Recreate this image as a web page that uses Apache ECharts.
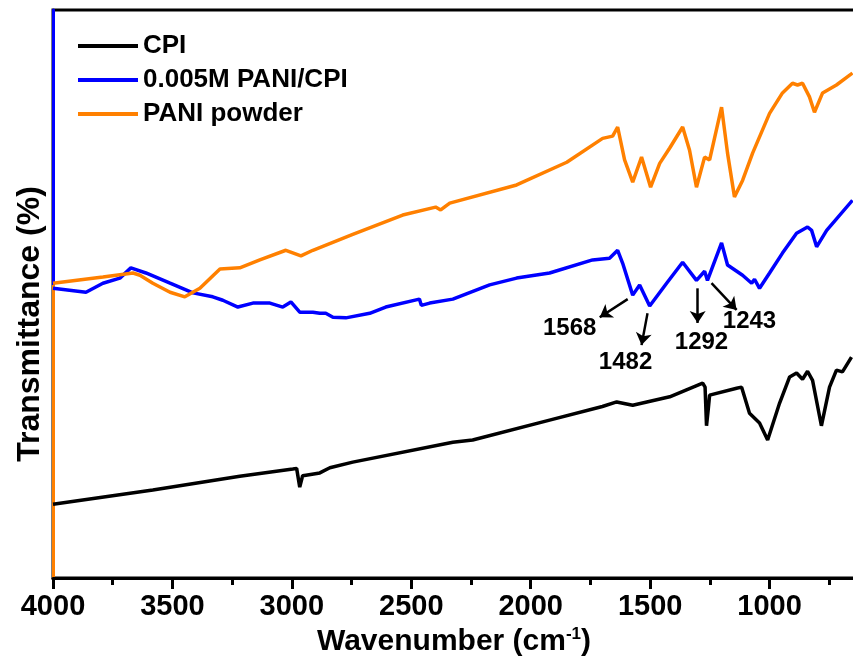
<!DOCTYPE html>
<html>
<head>
<meta charset="utf-8">
<script src="https://cdn.jsdelivr.net/npm/echarts@6/dist/echarts.min.js"></script>
<style>
  html, body { margin: 0; padding: 0; background: #fff; }
  #chart { width: 853px; height: 659px; }
</style>
</head>
<body>
<div id="chart"></div>
<script>
const seriesNames = ["CPI", "0.005M PANI/CPI", "PANI powder"];
const seriesColors = ["#000000", "#0000ff", "#ff8000"];

// [wavenumber, transmittance (a.u.)]
const cpi = [
  [4000, 13.0], [3582, 15.5], [3218, 17.9], [2996, 19.2], [2980, 19.3], [2967, 16.0],
  [2955, 18.0], [2941, 18.1], [2883, 18.5], [2841, 19.4], [2745, 20.4], [2326, 23.9],
  [2243, 24.3], [1921, 27.8], [1700, 30.2], [1640, 31.0], [1573, 30.4], [1418, 31.9],
  [1280, 34.3], [1270, 33.6], [1264, 26.8], [1256, 30.0], [1251, 32.2], [1138, 33.4],
  [1117, 33.6], [1084, 29.0], [1042, 27.3], [1008, 24.3], [958, 30.8], [916, 35.4],
  [887, 36.1], [862, 35.0], [841, 36.4], [820, 34.8], [783, 26.8], [749, 33.6],
  [720, 36.6], [695, 36.3], [657, 38.9]
];

const paniCpi = [
  [4000, 51.0], [3862, 50.3], [3791, 51.9], [3720, 52.8], [3674, 54.6], [3611, 53.7],
  [3510, 51.9], [3414, 50.2], [3331, 49.5], [3289, 48.9], [3226, 47.7], [3163, 48.4],
  [3092, 48.4], [3038, 47.7], [3004, 48.6], [2967, 46.8], [2912, 46.8], [2883, 46.6],
  [2858, 46.6], [2828, 45.9], [2774, 45.8], [2674, 46.6], [2607, 47.7], [2466, 49.1],
  [2458, 48.0], [2423, 48.4], [2326, 49.1], [2172, 51.6], [2059, 52.8], [1921, 53.7],
  [1741, 56.0], [1670, 56.3], [1636, 57.7], [1615, 55.4], [1573, 49.8], [1544, 51.6],
  [1502, 47.9], [1431, 51.9], [1364, 55.6], [1306, 52.4], [1272, 54.0], [1260, 52.4],
  [1201, 59.0], [1176, 55.1], [1113, 53.3], [1075, 51.9], [1063, 52.6], [1042, 51.0],
  [1000, 53.7], [946, 57.2], [887, 60.7], [841, 61.8], [824, 61.2], [803, 58.3],
  [761, 61.2], [653, 66.5]
];

const paniPowder = [
  [4000, 51.9], [3791, 53.0], [3665, 53.7], [3636, 53.3], [3582, 51.9], [3510, 50.3],
  [3448, 49.5], [3385, 51.0], [3301, 54.4], [3218, 54.6], [3134, 56.0], [3025, 57.7],
  [2962, 56.7], [2912, 57.7], [2745, 60.5], [2536, 63.9], [2398, 65.3], [2377, 64.8],
  [2339, 66.0], [2059, 69.2], [1849, 73.2], [1699, 77.4], [1657, 77.8], [1636, 79.4],
  [1607, 73.6], [1573, 69.7], [1536, 74.1], [1498, 68.8], [1460, 73.0], [1418, 75.7],
  [1364, 79.4], [1335, 75.3], [1306, 68.8], [1272, 74.1], [1251, 73.6], [1201, 82.9],
  [1176, 74.8], [1147, 67.1], [1113, 70.0], [1071, 74.8], [1000, 81.8], [946, 85.4],
  [904, 87.1], [883, 86.8], [862, 87.1], [833, 84.7], [812, 82.0], [778, 85.4],
  [720, 86.8], [653, 88.9]
];

// peak annotations on the PANI/CPI curve
const peakLabels = ["1568", "1482", "1292", "1243"];
const peakLabelAt = [[1837, 44.0], [1603, 38.0], [1285, 41.5], [1084, 45.1]];
const peakArrows = [
  [[1594, 49.1], [1711, 45.9]],
  [[1511, 46.6], [1536, 41.0]],
  [[1301, 51.0], [1301, 44.9]],
  [[1243, 51.9], [1138, 47.2]]
];

const font = "Arial, 'Liberation Sans', sans-serif";

const chart = echarts.init(document.getElementById("chart"));

const lineSeries = [cpi, paniCpi, paniPowder].map((d, i) => ({
  name: seriesNames[i],
  type: "line",
  data: d,
  symbol: "none",
  lineStyle: { color: seriesColors[i], width: 3.5 },
  itemStyle: { color: seriesColors[i] }
}));

chart.setOption({
  animation: false,
  grid: {
    left: 53,
    top: 10,
    width: 836,
    height: 568,
    outerBoundsMode: "none",
    show: true,
    borderColor: "#000",
    borderWidth: 3
  },
  legend: {
    data: seriesNames,
    icon: "rect",
    orient: "vertical",
    left: 73,
    top: 28,
    itemWidth: 60,
    itemHeight: 4,
    itemGap: 8,
    textStyle: { fontSize: 26, fontWeight: "bold", color: "#000", fontFamily: font }
  },
  xAxis: {
    type: "value",
    inverse: true,
    min: 500,
    max: 4000,
    interval: 500,
    name: "Wavenumber (cm{s|-1})",
    nameLocation: "middle",
    nameGap: 42,
    nameTextStyle: {
      fontSize: 30,
      fontWeight: "bold",
      color: "#000",
      fontFamily: font,
      padding: [0, 34, 0, 0],
      rich: {
        s: { fontSize: 17, fontWeight: "bold", color: "#000", fontFamily: font, verticalAlign: "top", padding: [0, 0, 14, 0] }
      }
    },
    axisLine: { onZero: false, lineStyle: { color: "#000", width: 3 } },
    axisTick: { length: 11, lineStyle: { width: 3, color: "#000" } },
    minorTick: { show: true, splitNumber: 2, length: 7, lineStyle: { width: 3, color: "#000" } },
    splitLine: { show: false },
    axisLabel: {
      margin: 14,
      fontSize: 29,
      fontWeight: "bold",
      color: "#000",
      fontFamily: font,
      formatter: v => (v === 500 ? "" : String(v))
    }
  },
  yAxis: {
    type: "value",
    min: 0,
    max: 100,
    name: "Transmittance (%)",
    nameLocation: "middle",
    nameGap: 7,
    nameTextStyle: {
      fontSize: 32,
      fontWeight: "bold",
      color: "#000",
      fontFamily: font,
      padding: [0, 60, 0, 0]
    },
    axisLine: {
      onZero: false,
      lineStyle: {
        width: 3,
        color: {
          type: "linear",
          global: true,
          x: 0, y: 10, x2: 0, y2: 578,
          colorStops: [
            { offset: 0, color: "#0000ff" },
            { offset: 0.484, color: "#0000ff" },
            { offset: 0.484, color: "#ff8000" },
            { offset: 1, color: "#ff8000" }
          ]
        }
      }
    },
    axisTick: { show: false },
    axisLabel: { show: false },
    splitLine: { show: false }
  },
  series: [
    ...lineSeries,
    {
      name: "peaks",
      type: "scatter",
      symbolSize: 0,
      silent: true,
      itemStyle: { color: "#000", opacity: 1 },
      data: peakLabels.map((n, i) => ({ name: n, value: peakLabelAt[i] })),
      label: {
        show: true,
        position: "inside",
        formatter: p => p.name,
        fontSize: 24,
        fontWeight: "bold",
        color: "#000",
        fontFamily: font
      },
      markLine: {
        silent: true,
        symbol: ["none", "arrow"],
        symbolSize: 12,
        label: { show: false },
        lineStyle: { color: "#000", width: 2.5, type: "solid" },
        data: peakArrows.map(a => [{ coord: a[0] }, { coord: a[1] }])
      }
    }
  ]
});
</script>
</body>
</html>
